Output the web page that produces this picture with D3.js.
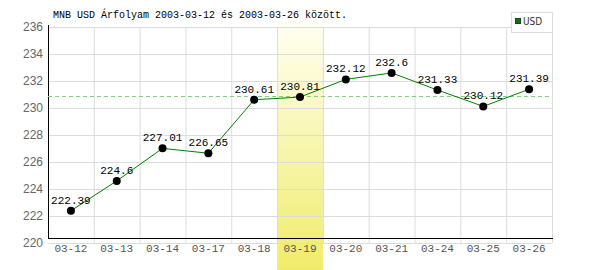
<!DOCTYPE html>
<html>
<head>
<meta charset="utf-8">
<script src="https://cdn.jsdelivr.net/npm/d3@7/dist/d3.min.js"></script>
<style>
  body { margin: 0; background: #fff; }
  svg { display: block; }
</style>
</head>
<body>
<svg id="chart" width="600" height="270"></svg>
<script>
var dates = ["03-12", "03-13", "03-14", "03-17", "03-18", "03-19", "03-20", "03-21", "03-24", "03-25", "03-26"];
var usd = [222.39, 224.6, 227.01, 226.65, 230.61, 230.81, 232.12, 232.6, 231.33, 230.12, 231.39];
var yTicks = [220, 222, 224, 226, 228, 230, 232, 234, 236];
var highlight = "03-19";

var svg = d3.select("#chart"),
    font = "Liberation Mono, DejaVu Sans Mono, monospace";

var x = d3.scaleBand()
    .domain(dates)
    .range([48, 552]);

var y = d3.scaleLinear()
    .domain([220, 236])
    .range([243, 27]);

// yellow band for the selected day
var grad = svg.append("defs").append("linearGradient")
    .attr("id", "band")
    .attr("x1", 0).attr("y1", 0).attr("x2", 0).attr("y2", 1);
grad.append("stop").attr("offset", "0%").attr("stop-color", "#fffff2");
grad.append("stop").attr("offset", "100%").attr("stop-color", "#f0ec6a");

svg.append("rect")
    .attr("x", x(highlight))
    .attr("y", 22)
    .attr("width", x.bandwidth())
    .attr("height", 248)
    .attr("fill", "url(#band)");

// grid
svg.append("g")
  .selectAll("line")
  .data(yTicks)
  .enter().append("line")
    .attr("x1", 48).attr("x2", 552)
    .attr("y1", function(d) { return y(d) + 0.5; })
    .attr("y2", function(d) { return y(d) + 0.5; })
    .attr("stroke", "#dcdcdc");

svg.append("g")
  .selectAll("line")
  .data(dates.slice(1).concat(["end"]))
  .enter().append("line")
    .attr("x1", function(d) { return (d == "end" ? 552 : x(d)) + 0.5; })
    .attr("x2", function(d) { return (d == "end" ? 552 : x(d)) + 0.5; })
    .attr("y1", 27).attr("y2", 243)
    .attr("stroke", "#dcdcdc");

// axes lines
svg.append("line")
    .attr("x1", 48.5).attr("x2", 48.5)
    .attr("y1", 25).attr("y2", 238)
    .attr("stroke", "#000");
svg.append("line")
    .attr("x1", 48).attr("x2", 553)
    .attr("y1", 238.5).attr("y2", 238.5)
    .attr("stroke", "#000");

// tick labels
svg.append("g")
  .selectAll("text")
  .data(yTicks)
  .enter().append("text")
    .attr("x", 43)
    .attr("y", function(d) { return y(d) + 4; })
    .attr("text-anchor", "end")
    .attr("font-family", "Liberation Sans, Arial, sans-serif")
    .attr("font-size", "12px")
    .attr("fill", "#666")
    .text(function(d) { return d; });

svg.append("g")
  .selectAll("text")
  .data(dates)
  .enter().append("text")
    .attr("x", function(d) { return x(d) + x.bandwidth() / 2; })
    .attr("y", 252)
    .attr("text-anchor", "middle")
    .attr("font-family", font)
    .attr("font-size", "11px")
    .attr("fill", "#555")
    .text(function(d) { return d; });

// reference line at the selected day's rate
var hv = usd[dates.indexOf(highlight)];
svg.append("line")
    .attr("x1", 48).attr("x2", 552)
    .attr("y1", Math.round(y(hv)) - 0.5)
    .attr("y2", Math.round(y(hv)) - 0.5)
    .attr("stroke", "#7fd07f")
    .attr("stroke-dasharray", "4,3");

// series
var line = d3.line()
    .x(function(d, i) { return x(dates[i]) + x.bandwidth() / 2; })
    .y(function(d) { return y(d); });

svg.append("path")
    .datum(usd)
    .attr("d", line)
    .attr("fill", "none")
    .attr("stroke", "#008000")
    .attr("stroke-width", 1);

var pts = svg.append("g")
  .selectAll("g")
  .data(usd)
  .enter().append("g")
    .attr("transform", function(d, i) {
      return "translate(" + (x(dates[i]) + x.bandwidth() / 2) + "," + y(d) + ")"; });

pts.append("circle")
    .attr("r", 4)
    .attr("fill", "#000");

pts.append("text")
    .attr("y", -7)
    .attr("text-anchor", "middle")
    .attr("font-family", font)
    .attr("font-size", "11px")
    .attr("fill", "#000")
    .text(function(d) { return d; });

// title
svg.append("text")
    .attr("x", 53)
    .attr("y", 18)
    .attr("font-family", font)
    .attr("font-size", "10px")
    .attr("fill", "#000")
    .text("MNB USD Árfolyam 2003-03-12 és 2003-03-26 között.");

// legend
svg.append("rect")
    .attr("x", 511.5).attr("y", 12.5)
    .attr("width", 41).attr("height", 20)
    .attr("fill", "#fff")
    .attr("stroke", "#dcdcdc");
svg.append("rect")
    .attr("x", 515.5).attr("y", 18.5)
    .attr("width", 5).attr("height", 5)
    .attr("fill", "#008000")
    .attr("stroke", "#333");
svg.append("text")
    .attr("x", 523)
    .attr("y", 25)
    .attr("font-family", "DejaVu Sans Condensed, sans-serif")
    .attr("font-size", "10px")
    .attr("fill", "#333")
    .text("USD");
</script>
</body>
</html>
